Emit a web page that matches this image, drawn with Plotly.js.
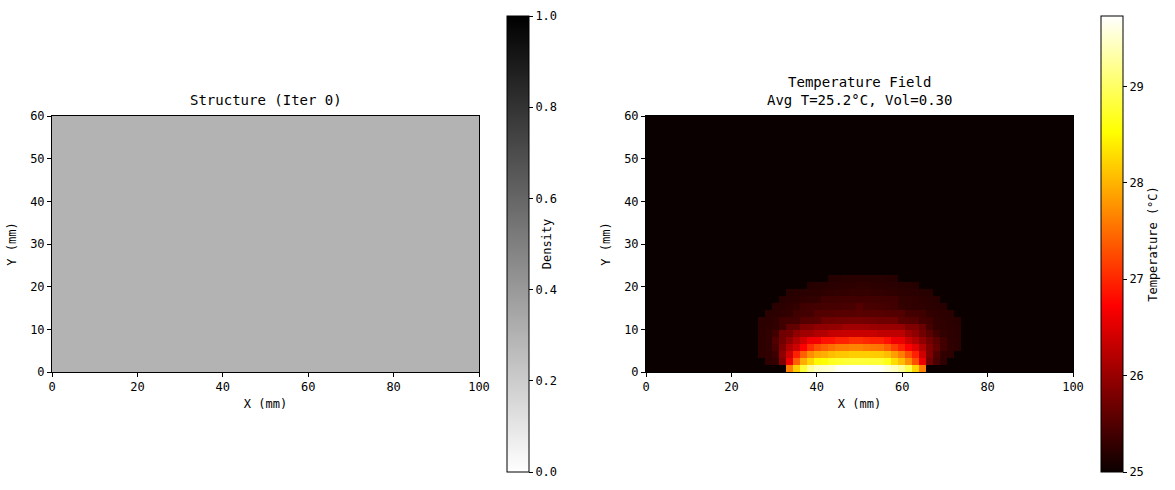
<!DOCTYPE html>
<html>
<head>
<meta charset="utf-8">
<script src="https://cdn.plot.ly/plotly-3.0.1.min.js"></script>
<style>html,body{margin:0;padding:0;background:#fff;}#chart{width:1175px;height:490px;}</style>
</head>
<body>
<div id="chart"></div>
<script>
// ---------- DATA ----------
// Left panel: uniform design density (volume fraction 0.30) over the 100 x 60 mm domain
const densityX = [0, 100];
const densityY = [0, 60];
const densityValue = 0.30;

// Right panel: nodal temperature field, 61 x 37 nodes over 0..100 x 0..60 mm
const tempNx = 61;
const tempNy = 37;
const tempBackground = 25.0;
const tempColStart = 15;   // first column listed in each row below (cols 15..45)
// rows from bottom (y = 0) upward; values for columns 15..45
const tempRows = [
  [25.0,25.0,25.0,25.0,25.0,27.62,28.18,28.78,29.25,29.45,29.50,29.52,29.68,29.70,29.72,29.73,29.72,29.70,29.68,29.55,29.40,29.25,28.88,28.23,27.62,25.0,25.0,25.0,25.0,25.0,25.0],
  [25.0,25.0,25.26,25.30,25.83,26.62,27.40,27.95,28.23,28.48,28.52,28.68,28.72,28.78,28.80,28.80,28.79,28.78,28.76,28.63,28.29,28.06,27.73,27.28,26.60,25.72,25.43,25.25,25.0,25.0,25.0],
  [25.0,25.24,25.26,25.35,25.94,26.39,26.95,27.40,27.73,27.90,27.95,28.06,28.12,28.13,28.18,28.18,28.18,28.17,28.16,28.06,27.84,27.62,27.28,26.95,26.39,25.83,25.49,25.26,25.24,25.0,25.0],
  [25.0,25.24,25.27,25.43,25.83,26.17,26.39,26.73,27.06,27.28,27.40,27.51,27.60,27.62,27.66,27.67,27.60,27.56,27.55,27.40,27.17,26.95,26.73,26.51,26.17,25.83,25.60,25.38,25.26,25.23,25.0],
  [25.0,25.24,25.27,25.49,25.72,25.94,26.17,26.39,26.62,26.64,26.84,26.86,26.95,26.96,27.06,27.06,27.00,26.95,26.95,26.84,26.62,26.60,26.34,26.17,25.94,25.72,25.55,25.38,25.26,25.23,25.0],
  [25.0,25.24,25.27,25.38,25.72,25.74,25.94,26.05,26.07,26.17,26.19,26.30,26.32,26.33,26.34,26.34,26.34,26.33,26.28,26.28,26.27,26.26,26.05,25.94,25.72,25.55,25.38,25.27,25.25,25.23,25.0],
  [25.0,25.23,25.25,25.27,25.38,25.60,25.62,25.83,25.85,25.94,25.95,25.96,25.97,26.05,26.06,26.06,26.05,26.02,26.00,26.00,25.99,25.98,25.83,25.82,25.68,25.42,25.28,25.26,25.24,25.22,25.0],
  [25.0,25.22,25.24,25.27,25.38,25.39,25.40,25.52,25.53,25.55,25.70,25.71,25.72,25.73,25.74,25.74,25.73,25.72,25.71,25.70,25.70,25.55,25.53,25.52,25.40,25.38,25.27,25.25,25.23,25.21,25.0],
  [25.0,25.0,25.22,25.24,25.26,25.28,25.38,25.39,25.40,25.50,25.51,25.52,25.53,25.54,25.54,25.55,25.54,25.54,25.53,25.52,25.51,25.50,25.40,25.39,25.38,25.28,25.26,25.24,25.22,25.0,25.0],
  [25.0,25.0,25.0,25.22,25.24,25.26,25.28,25.38,25.39,25.40,25.41,25.42,25.42,25.43,25.44,25.52,25.44,25.43,25.42,25.40,25.38,25.29,25.27,25.26,25.25,25.24,25.23,25.21,25.0,25.0,25.0],
  [25.0,25.0,25.0,25.0,25.21,25.23,25.24,25.26,25.27,25.28,25.36,25.37,25.37,25.38,25.38,25.38,25.38,25.38,25.37,25.37,25.36,25.28,25.27,25.26,25.24,25.23,25.21,25.0,25.0,25.0,25.0],
  [25.0,25.0,25.0,25.0,25.0,25.20,25.21,25.22,25.23,25.24,25.25,25.26,25.27,25.28,25.29,25.29,25.29,25.28,25.27,25.26,25.25,25.24,25.23,25.22,25.21,25.20,25.0,25.0,25.0,25.0,25.0],
  [25.0,25.0,25.0,25.0,25.0,25.0,25.0,25.0,25.19,25.20,25.21,25.22,25.23,25.24,25.24,25.25,25.25,25.24,25.24,25.23,25.22,25.21,25.20,25.19,25.0,25.0,25.0,25.0,25.0,25.0,25.0],
  [25.0,25.0,25.0,25.0,25.0,25.0,25.0,25.0,25.0,25.0,25.0,25.18,25.19,25.20,25.21,25.21,25.21,25.21,25.20,25.19,25.18,25.0,25.0,25.0,25.0,25.0,25.0,25.0,25.0,25.0,25.0]
];
const domainX = [0, 100];
const domainY = [0, 60];
const xTicks = [0, 20, 40, 60, 80, 100];
const yTicks = [0, 10, 20, 30, 40, 50, 60];
const densityTicks = [0, 0.2, 0.4, 0.6, 0.8, 1.0];
const tempTicks = [25, 26, 27, 28, 29];
const leftTitle = 'Structure (Iter 0)';
const rightTitle = 'Temperature Field<br>Avg T=25.2°C, Vol=0.30';

// ---------- BUILD TABLES ----------
const tempZ = [];
for (let r = 0; r < tempNy; r++) {
  const row = [];
  for (let c = 0; c < tempNx; c++) {
    const src = tempRows[r];
    const k = c - tempColStart;
    row.push(src && k >= 0 && k < src.length ? src[k] : tempBackground);
  }
  tempZ.push(row);
}
const dxT = (domainX[1] - domainX[0]) / tempNx;
const dyT = (domainY[1] - domainY[0]) / tempNy;

const FONT = 'DejaVu Sans Mono, monospace';
const W = 1175, H = 490;
const px = v => v / W;
const py = v => (H - v) / H;

const grayR = [[0, 'rgb(255,255,255)'], [1, 'rgb(0,0,0)']];
const mplHot = [[0, 'rgb(11,0,0)'], [0.365079, 'rgb(255,0,0)'], [0.746032, 'rgb(255,255,0)'], [1, 'rgb(255,255,255)']];

function cbar(xLeft, ticks, fmt, title) {
  return {
    x: px(xLeft), xanchor: 'left', xpad: 0, ypad: 0,
    y: py(244), yanchor: 'middle', len: 456 / H, lenmode: 'fraction',
    thickness: 22, thicknessmode: 'pixels',
    outlinewidth: 1, outlinecolor: '#000',
    tickmode: 'array', tickvals: ticks, ticktext: ticks.map(fmt),
    ticks: 'outside', ticklen: 4, tickcolor: '#000', tickwidth: 1,
    tickfont: {family: FONT, size: 12, color: '#000'},
    title: {text: title, side: 'right', font: {family: FONT, size: 12, color: '#000'}}
  };
}

const traces = [
  {
    type: 'heatmap', x: densityX, y: densityY, z: [[densityValue]],
    zmin: 0, zmax: 1, colorscale: grayR, xaxis: 'x', yaxis: 'y', hoverinfo: 'skip',
    colorbar: cbar(507, densityTicks, v => v.toFixed(1), 'Density')
  },
  {
    type: 'heatmap', z: tempZ, x0: domainX[0] + dxT / 2, dx: dxT, y0: domainY[0] + dyT / 2, dy: dyT,
    colorscale: mplHot, xaxis: 'x2', yaxis: 'y2', hoverinfo: 'skip', zsmooth: false,
    colorbar: cbar(1101, tempTicks, v => String(v), 'Temperature (°C)')
  }
];

function xa(d, anchor) {
  return {
    domain: d, anchor: anchor, range: domainX, tickmode: 'array', tickvals: xTicks,
    ticks: 'outside', ticklen: 4, tickcolor: '#000', showline: true, mirror: true,
    linecolor: '#000', linewidth: 1, showgrid: false, zeroline: false, fixedrange: true,
    tickfont: {family: FONT, size: 12, color: '#000'},
    title: {text: 'X (mm)', standoff: 6, font: {family: FONT, size: 12, color: '#000'}}
  };
}
function ya(anchor) {
  return {
    domain: [py(372), py(116)], anchor: anchor, range: domainY, tickmode: 'array', tickvals: yTicks,
    ticks: 'outside', ticklen: 4, tickcolor: '#000', showline: true, mirror: true,
    linecolor: '#000', linewidth: 1, showgrid: false, zeroline: false, fixedrange: true,
    tickfont: {family: FONT, size: 12, color: '#000'},
    title: {text: 'Y (mm)', standoff: 10, font: {family: FONT, size: 12, color: '#000'}}
  };
}

const layout = {
  width: W, height: H, margin: {l: 0, r: 0, t: 0, b: 0},
  paper_bgcolor: '#fff', plot_bgcolor: '#fff', showlegend: false,
  font: {family: FONT, color: '#000'},
  xaxis: xa([px(52), px(479)], 'y'),
  yaxis: ya('x'),
  xaxis2: xa([px(646), px(1073)], 'y2'),
  yaxis2: ya('x2'),
  annotations: [
    {text: leftTitle, xref: 'paper', yref: 'paper', x: px(265.5), y: py(110), xanchor: 'center', yanchor: 'bottom',
     showarrow: false, font: {family: FONT, size: 14, color: '#000'}},
    {text: rightTitle, xref: 'paper', yref: 'paper', x: px(859.5), y: py(110), xanchor: 'center', yanchor: 'bottom',
     showarrow: false, font: {family: FONT, size: 14, color: '#000'}}
  ]
};

Plotly.newPlot('chart', traces, layout, {displayModeBar: false, staticPlot: true});
</script>
</body>
</html>
